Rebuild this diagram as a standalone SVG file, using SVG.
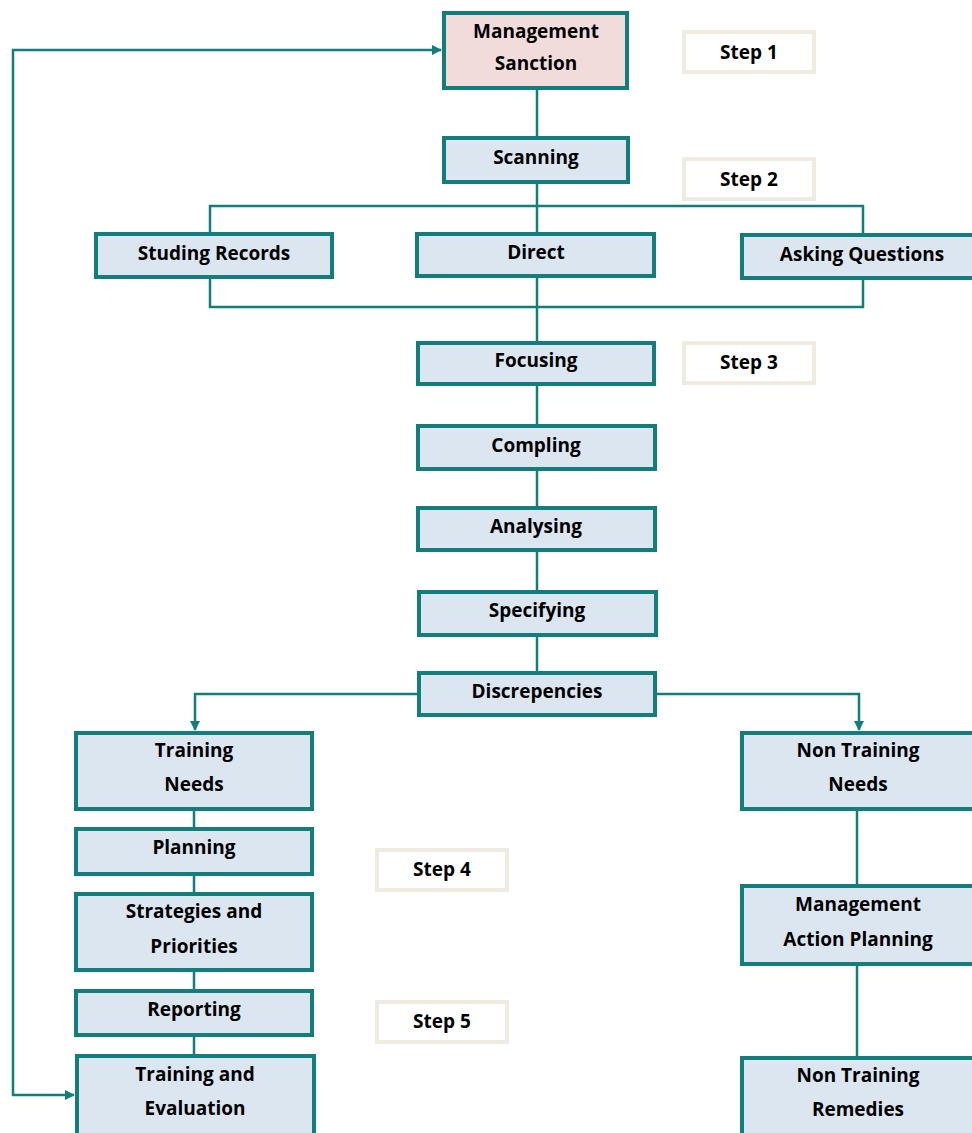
<svg xmlns="http://www.w3.org/2000/svg" width="972" height="1133" viewBox="0 0 972 1133">
<style>
.n{fill:#dce6f1;stroke:#137d7b;stroke-width:4}
.p{fill:#f2dcdb;stroke:#137d7b;stroke-width:4}
.s{fill:#fff;stroke:#eeece1;stroke-width:4}
.c{fill:none;stroke:#137d7b;stroke-width:2.5}
text{font-family:"Open Sans","Noto Sans",sans-serif;font-weight:bold;font-size:19px;fill:#000;text-anchor:middle}
</style>
<defs>
<marker id="a" markerWidth="10" markerHeight="10" refX="9" refY="5" orient="auto-start-reverse" markerUnits="userSpaceOnUse">
<path d="M0,0 L10,5 L0,10 Z" fill="#137d7b"/>
</marker>
</defs>
<rect width="972" height="1133" fill="#fff"/>
<g id="connectors">
<path class="c" d="M537,89 V137"/>
<path class="c" d="M537,183 V342"/>
<path class="c" d="M210,233 V206 H863 V234"/>
<path class="c" d="M210,278 V307 H863 V279"/>
<path class="c" d="M537,385 V425"/>
<path class="c" d="M537,470 V507"/>
<path class="c" d="M537,551 V591"/>
<path class="c" d="M537,636 V672"/>
<path class="c" d="M418,694 H195 V730" marker-end="url(#a)"/>
<path class="c" d="M656,694 H859 V730" marker-end="url(#a)"/>
<path class="c" d="M194,810 V828"/>
<path class="c" d="M194,875 V893"/>
<path class="c" d="M194,971 V990"/>
<path class="c" d="M194,1036 V1055"/>
<path class="c" d="M857,810 V885"/>
<path class="c" d="M857,965 V1057"/>
<path class="c" d="M74,1095 H13 V50 H441" marker-start="url(#a)" marker-end="url(#a)"/>
</g>
<g id="step1"><rect class="s" x="684" y="32" width="130" height="40"/><text x="749" y="59">Step 1</text></g>
<g id="step2"><rect class="s" x="684" y="159" width="130" height="40"/><text x="749" y="186">Step 2</text></g>
<g id="step3"><rect class="s" x="684" y="343" width="130" height="40"/><text x="749" y="369">Step 3</text></g>
<g id="step4"><rect class="s" x="377" y="850" width="130" height="40"/><text x="442" y="876">Step 4</text></g>
<g id="step5"><rect class="s" x="377" y="1002" width="130" height="40"/><text x="442" y="1028">Step 5</text></g>
<g id="mgmt-sanction"><rect class="p" x="444" y="13" width="183" height="75"/><text x="536" y="38">Management</text><text x="536" y="70">Sanction</text></g>
<g id="scanning"><rect class="n" x="444" y="138" width="184" height="44"/><text x="536" y="164">Scanning</text></g>
<g id="studing"><rect class="n" x="96" y="234" width="236" height="43"/><text x="214" y="260">Studing Records</text></g>
<g id="direct"><rect class="n" x="417" y="234" width="237" height="42"/><text x="536" y="259">Direct</text></g>
<g id="asking"><rect class="n" x="742" y="235" width="234" height="43"/><text x="862" y="261">Asking Questions</text></g>
<g id="focusing"><rect class="n" x="418" y="343" width="236" height="41"/><text x="536" y="367">Focusing</text></g>
<g id="compling"><rect class="n" x="418" y="426" width="237" height="43"/><text x="536" y="452">Compling</text></g>
<g id="analysing"><rect class="n" x="418" y="508" width="237" height="42"/><text x="536" y="533">Analysing</text></g>
<g id="specifying"><rect class="n" x="419" y="592" width="237" height="43"/><text x="537" y="617">Specifying</text></g>
<g id="discrepencies"><rect class="n" x="419" y="673" width="236" height="42"/><text x="537" y="698">Discrepencies</text></g>
<g id="training-needs"><rect class="n" x="76" y="733" width="236" height="76"/><text x="194" y="757">Training</text><text x="194" y="791">Needs</text></g>
<g id="planning"><rect class="n" x="76" y="829" width="236" height="45"/><text x="194" y="854">Planning</text></g>
<g id="strategies"><rect class="n" x="76" y="894" width="236" height="76"/><text x="194" y="918">Strategies and</text><text x="194" y="953">Priorities</text></g>
<g id="reporting"><rect class="n" x="76" y="991" width="236" height="44"/><text x="194" y="1016">Reporting</text></g>
<g id="training-eval"><rect class="n" x="77" y="1056" width="237" height="80"/><text x="195" y="1081">Training and</text><text x="195" y="1115">Evaluation</text></g>
<g id="non-training-needs"><rect class="n" x="742" y="733" width="234" height="76"/><text x="858" y="757">Non Training</text><text x="858" y="791">Needs</text></g>
<g id="mgmt-action"><rect class="n" x="742" y="886" width="234" height="78"/><text x="858" y="911">Management</text><text x="858" y="946">Action Planning</text></g>
<g id="non-training-remedies"><rect class="n" x="742" y="1058" width="234" height="80"/><text x="858" y="1082">Non Training</text><text x="858" y="1116">Remedies</text></g>
</svg>
